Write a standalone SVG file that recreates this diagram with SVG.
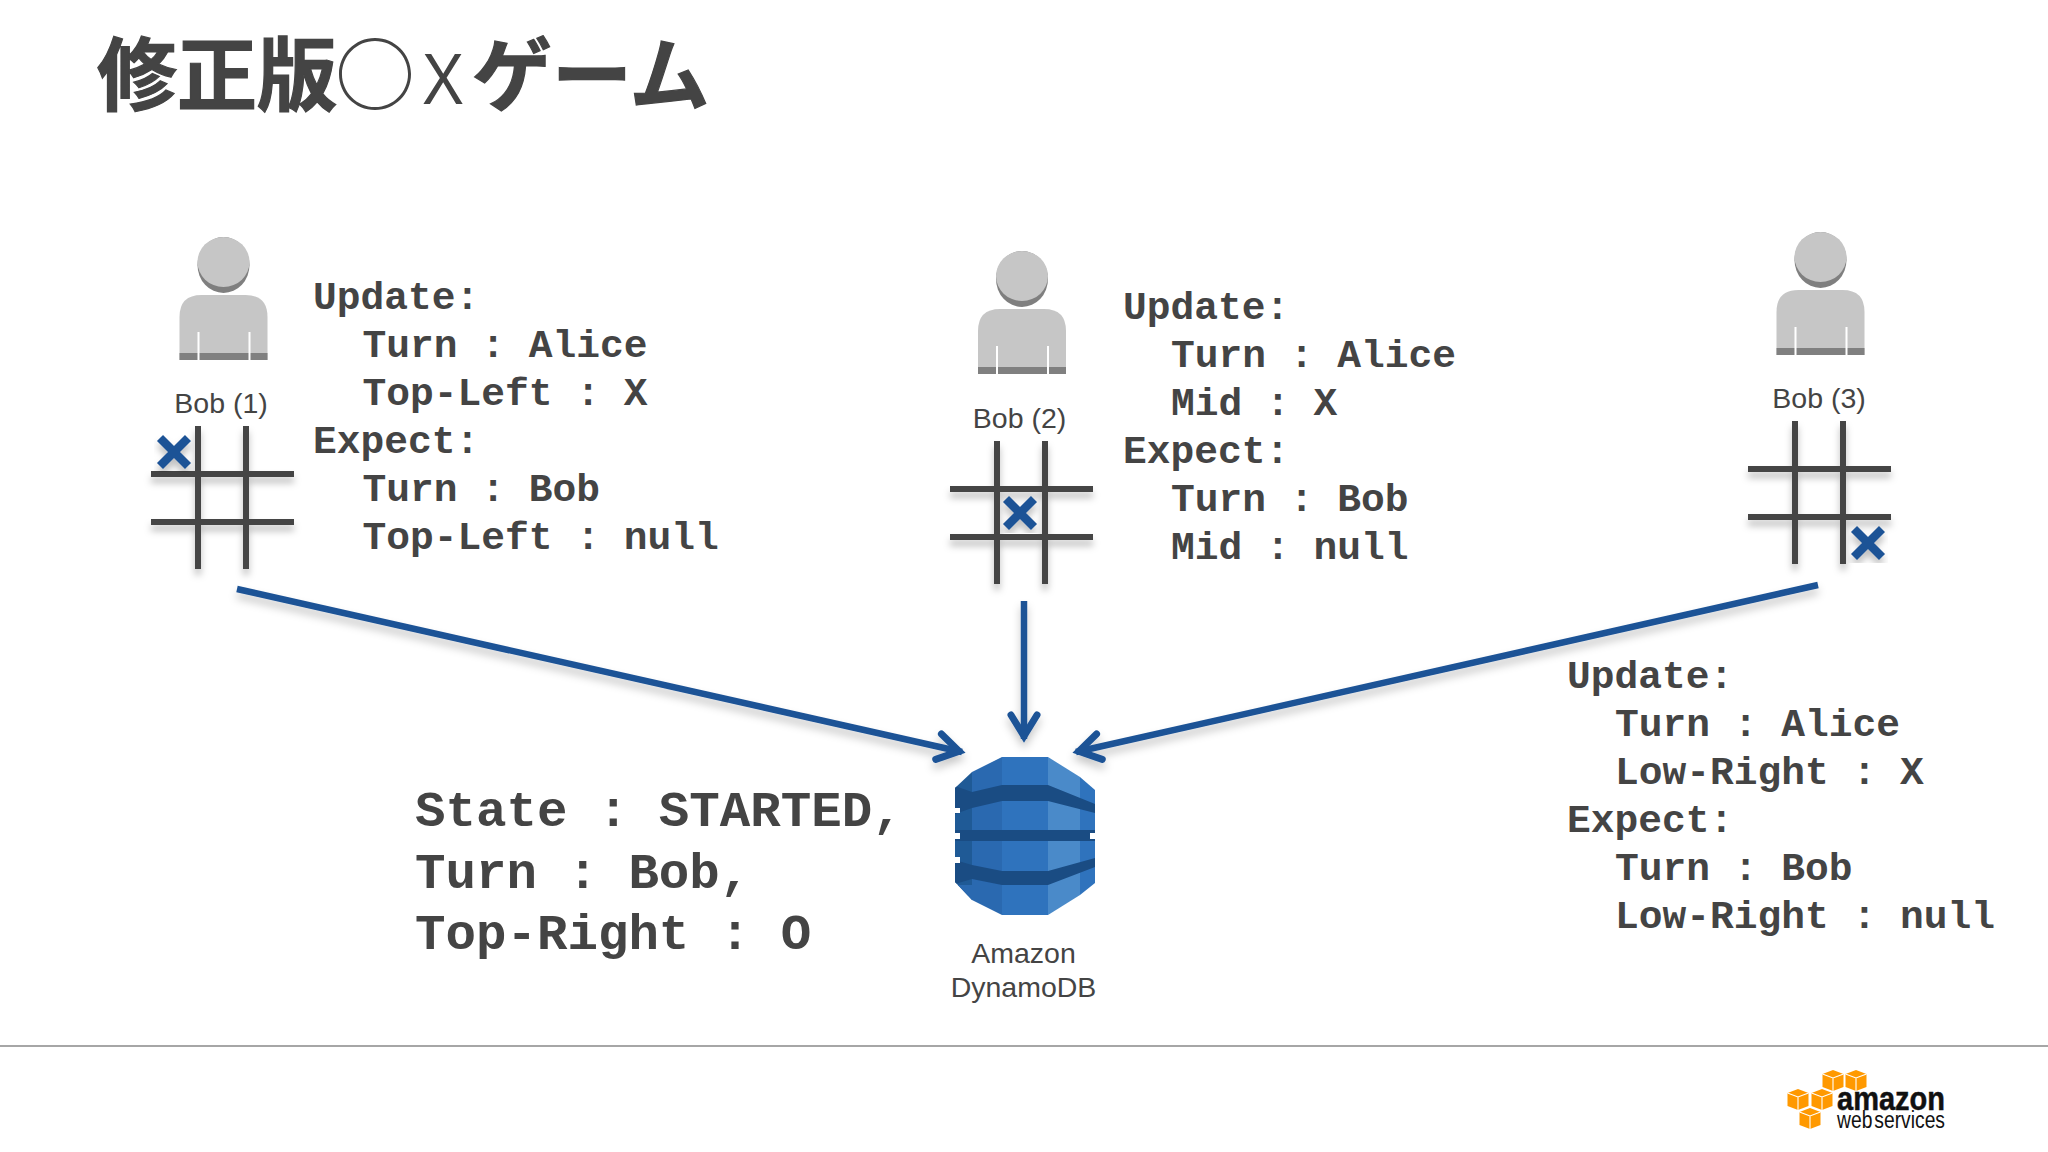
<svg xmlns="http://www.w3.org/2000/svg" xmlns:xlink="http://www.w3.org/1999/xlink" width="2048" height="1152" viewBox="0 0 2048 1152">
<style>
.title{font-family:"Noto Sans CJK JP","Liberation Sans",sans-serif;font-size:80px;font-weight:700;fill:#444;stroke:#444;stroke-width:1.2}
.thin{font-weight:400;stroke:none}
.code{font-family:"Liberation Mono",monospace;font-size:39.6px;font-weight:700;fill:#444}
.state{font-family:"Liberation Mono",monospace;font-size:50.8px;font-weight:700;fill:#444}
.lbl{font-family:"Liberation Sans",Arial,sans-serif;font-size:28.5px;fill:#444;text-anchor:middle}
.grid{stroke:#444;stroke-width:6;fill:none}
.mark{stroke:#1d5396;stroke-width:8.5;fill:none}
.arrow{stroke:#1d5396;stroke-width:6.5;fill:none;marker-end:url(#head)}
</style>
<defs>
<filter id="sh" x="-20%" y="-20%" width="140%" height="140%"><feDropShadow dx="0" dy="6" stdDeviation="3.500" flood-color="#000" flood-opacity="0.25"/></filter>
<filter id="shc" filterUnits="userSpaceOnUse" x="0" y="0" width="2048" height="1152"><feDropShadow dx="0" dy="6" stdDeviation="4" flood-color="#000" flood-opacity="0.22"/></filter>
<marker id="head" markerUnits="userSpaceOnUse" markerWidth="60" markerHeight="60" refX="40" refY="30" viewBox="0 0 60 60" orient="auto" overflow="visible"><path d="M16,17 L37,30 L16,43" fill="none" stroke="#1d5396" stroke-width="7" stroke-linecap="round"/></marker>
<g id="person">
<path d="M-44,355 V312 Q-44,290 -22,290 H22 Q44,290 44,312 V355 Z" fill="#c6c6c6"/>
<ellipse cx="0" cy="260" rx="26" ry="28" fill="#7f7f7f"/>
<ellipse cx="0" cy="257" rx="26" ry="25" fill="#c6c6c6"/>
<rect x="-44" y="348" width="88" height="7" fill="#808080"/>
<path d="M-25,327 V355 M26,327 V355" stroke="#fff" stroke-width="2"/>
</g>
<g id="board" filter="url(#sh)">
<path class="grid" d="M1795,421 V564 M1843,421 V564 M1748,469 H1891 M1748,517 H1891"/>
</g>
<g id="cube">
<path d="M0,-10 L10.5,-6 V7 L0,11 L-10.5,7 V-6 Z" fill="#f90"/>
<path d="M-10.5,-6 L0,-2 L10.5,-6 M0,-2 V11" stroke="#fff" stroke-width="1.1" fill="none"/>
</g>
</defs>
<rect width="2048" height="1152" fill="#fff"/>
<g id="title"><text class="title" y="104"><tspan x="97">修正版</tspan><tspan x="335" class="thin">○</tspan></text><text class="title thin" x="422" y="104" style="font-family:'Liberation Sans',sans-serif;font-size:73px;font-weight:400" textLength="42" lengthAdjust="spacingAndGlyphs">X</text><text class="title" x="472" y="104">ゲーム</text></g>
<g id="connectors">
<g filter="url(#shc)">
<path class="arrow" d="M237,589 L962,752"/>
<path class="arrow" d="M1024,601 L1024,739"/>
<path class="arrow" d="M1818,585 L1076,752"/>
</g>
<path d="M0,1046 H2048" stroke="#888" stroke-width="1.5"/>
</g>
<g id="bob1">
<use xlink:href="#person" href="#person" transform="translate(223.500,5)"/>
<text class="lbl" x="221" y="413">Bob (1)</text>
<use xlink:href="#board" href="#board" transform="translate(-1597,5)"/>
<path class="mark" filter="url(#sh)" d="M160,438 L188,466 M188,438 L160,466"/>
<text class="code" x="313" y="309">Update:</text><text class="code" x="362.500" y="357">Turn : Alice</text><text class="code" x="362.500" y="405">Top-Left : X</text><text class="code" x="313" y="453">Expect:</text><text class="code" x="362.500" y="501">Turn : Bob</text><text class="code" x="362.500" y="549">Top-Left : null</text>
</g>
<g id="bob2">
<use xlink:href="#person" href="#person" transform="translate(1022,19)"/>
<text class="lbl" x="1019.500" y="428">Bob (2)</text>
<use xlink:href="#board" href="#board" transform="translate(-798,20)"/>
<path class="mark" filter="url(#sh)" d="M1006,499 L1034,527 M1034,499 L1006,527"/>
<text class="code" x="1123" y="319">Update:</text><text class="code" x="1171" y="367">Turn : Alice</text><text class="code" x="1171" y="415">Mid : X</text><text class="code" x="1123" y="463">Expect:</text><text class="code" x="1171" y="511">Turn : Bob</text><text class="code" x="1171" y="559">Mid : null</text>
</g>
<g id="bob3">
<use xlink:href="#person" href="#person" transform="translate(1820.500,0)"/>
<text class="lbl" x="1819" y="408">Bob (3)</text>
<use xlink:href="#board" href="#board"/>
<path class="mark" filter="url(#sh)" d="M1854,529 L1882,557 M1882,529 L1854,557"/>
<text class="code" x="1567" y="687.500">Update:</text><text class="code" x="1615" y="735.500">Turn : Alice</text><text class="code" x="1615" y="783.500">Low-Right : X</text><text class="code" x="1567" y="831.500">Expect:</text><text class="code" x="1615" y="879.500">Turn : Bob</text><text class="code" x="1615" y="927.500">Low-Right : null</text>
</g>
<g id="state">
<text class="state" x="415" y="826">State : STARTED,</text><text class="state" x="415" y="888">Turn : Bob,</text><text class="state" x="415" y="949">Top-Right : O</text>
</g>
<g id="dynamodb">
<clipPath id="db"><path d="M1002,757 H1048 L1080,777 L1095,790 V883 L1080,895 L1048,915 H1002 L972,900 L955,882 V788 L972,772 Z"/></clipPath>
<g clip-path="url(#db)">
<rect x="955" y="757" width="17" height="158" fill="#1f5a96"/>
<rect x="972" y="757" width="30" height="158" fill="#2a69b0"/>
<rect x="1002" y="757" width="46" height="158" fill="#2f73bd"/>
<rect x="1048" y="757" width="32" height="158" fill="#4a8ac9"/>
<rect x="1080" y="757" width="15" height="158" fill="#2f73bd"/>
<rect x="955" y="885" width="17" height="30" fill="#2a69b0"/>
<path d="M955,786 L972,792 L1002,785 H1048 L1095,804 V813 L1048,801 H1002 L972,808 L955,814 Z" fill="#1a4c83"/>
<path d="M955,830 H1095 V841 H955 Z" fill="#1a4c83"/>
<path d="M955,860 L972,865 L1002,871 H1048 L1095,858 V867 L1048,885 H1002 L972,879 L955,884 Z" fill="#1a4c83"/>
<path d="M955,808 H960 V813 H955 Z M955,833 H960 V839 H955 Z M955,857 H960 V863 H955 Z M1090,833 H1095 V839 H1090 Z" fill="#fff"/>
</g>
<text class="lbl" x="1023.500" y="963">Amazon</text><text class="lbl" x="1023.500" y="997">DynamoDB</text>
</g>
<g id="aws-logo">
<use xlink:href="#cube" href="#cube" x="1833" y="1080"/><use xlink:href="#cube" href="#cube" x="1856" y="1080"/><use xlink:href="#cube" href="#cube" x="1798" y="1099"/><use xlink:href="#cube" href="#cube" x="1822" y="1099"/><use xlink:href="#cube" href="#cube" x="1810" y="1118"/>
<text x="1837" y="1110" style="font-family:'Liberation Sans',sans-serif;font-size:33px;font-weight:700;fill:#111;stroke:#111;stroke-width:.5" textLength="108" lengthAdjust="spacingAndGlyphs">amazon</text>
<text x="1837" y="1128" style="font-family:'Liberation Sans',sans-serif;font-size:23px;fill:#111;word-spacing:-4px" textLength="108" lengthAdjust="spacingAndGlyphs">web services</text>
</g>
</svg>
